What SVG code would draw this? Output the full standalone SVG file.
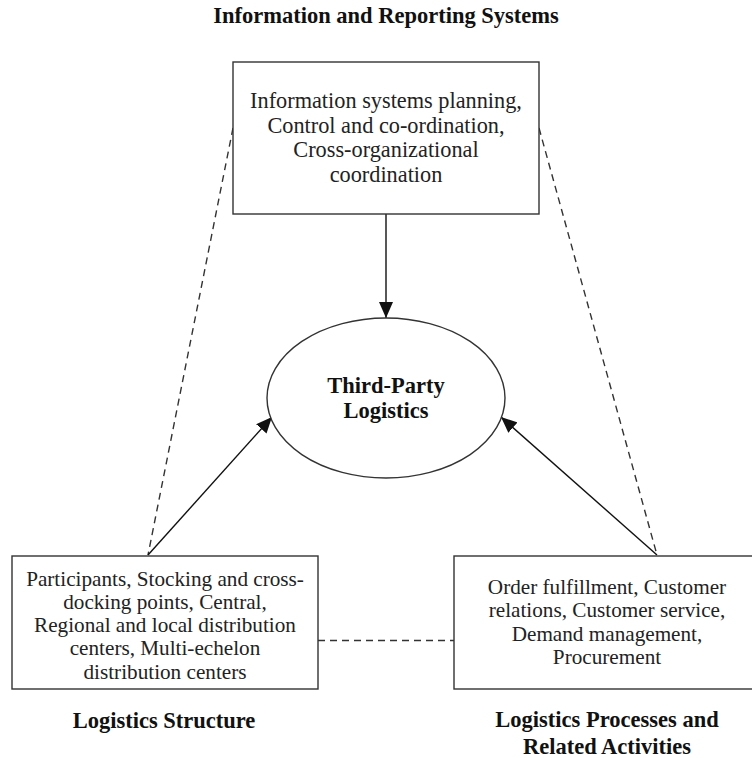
<svg xmlns="http://www.w3.org/2000/svg" width="752" height="758" viewBox="0 0 752 758">
<defs>
<style>
.box{fill:#fff;stroke:#333;stroke-width:1.4}
.t{font-family:"Liberation Serif","Times New Roman",serif;fill:#222;text-anchor:middle}
.n{font-size:21.2px}
.nt{font-size:22.3px}
.b{font-weight:bold;font-size:22.5px;fill:#111}
.solid{stroke:#111;stroke-width:1.4;fill:none}
.dash{stroke:#333;stroke-width:1.4;fill:none;stroke-dasharray:7 5}
</style>
<marker id="ah" viewBox="0 0 10 10" refX="10" refY="5" markerWidth="10" markerHeight="10" markerUnits="userSpaceOnUse" orient="auto">
<path d="M0,0 L10,5 L0,10 z" fill="#111"/>
</marker>
<marker id="ah2" viewBox="0 0 16 14" refX="16" refY="7" markerWidth="16" markerHeight="14" markerUnits="userSpaceOnUse" orient="auto">
<path d="M0,0 L16,7 L0,14 z" fill="#111"/>
</marker>
</defs>
<rect width="752" height="758" fill="#fff"/>
<g id="connectors">
<line class="dash" x1="233" y1="128" x2="148" y2="555"/>
<line class="dash" x1="539" y1="128" x2="657" y2="555"/>
<line class="dash" x1="318" y1="640.5" x2="454" y2="640.5"/>
<line class="solid" x1="386" y1="214" x2="386" y2="318" marker-end="url(#ah2)"/>
<line class="solid" x1="148" y1="555" x2="272" y2="417" marker-end="url(#ah2)"/>
<line class="solid" x1="657" y1="555" x2="501" y2="417" marker-end="url(#ah2)"/>
</g>
<g id="title">
<text class="t b" x="386" y="23">Information and Reporting Systems</text>
</g>
<g id="info-box">
<rect class="box" x="233" y="62" width="306" height="152"/>
<text class="t nt" x="386" y="108">Information systems planning,</text>
<text class="t nt" x="386" y="132.5">Control and co-ordination,</text>
<text class="t nt" x="386" y="157">Cross-organizational</text>
<text class="t nt" x="386" y="181.5">coordination</text>
</g>
<g id="tpl">
<ellipse class="box" cx="386" cy="398" rx="119" ry="80"/>
<text class="t b" x="386" y="393">Third-Party</text>
<text class="t b" x="386" y="418">Logistics</text>
</g>
<g id="structure-box">
<rect class="box" x="12" y="556" width="306" height="133"/>
<text class="t n" x="165" y="585.5">Participants, Stocking and cross-</text>
<text class="t n" x="165" y="608.8">docking points, Central,</text>
<text class="t n" x="165" y="632.1">Regional and local distribution</text>
<text class="t n" x="165" y="655.4">centers, Multi-echelon</text>
<text class="t n" x="165" y="678.7">distribution centers</text>
</g>
<g id="process-box">
<rect class="box" x="454" y="556" width="310" height="133"/>
<text class="t n" x="607" y="594">Order fulfillment, Customer</text>
<text class="t n" x="607" y="617.3">relations, Customer service,</text>
<text class="t n" x="607" y="640.6">Demand management,</text>
<text class="t n" x="607" y="663.9">Procurement</text>
</g>
<g id="label-structure">
<text class="t b" x="164" y="728">Logistics Structure</text>
</g>
<g id="label-process">
<text class="t b" x="607" y="727">Logistics Processes and</text>
<text class="t b" x="607" y="754">Related Activities</text>
</g>
</svg>
